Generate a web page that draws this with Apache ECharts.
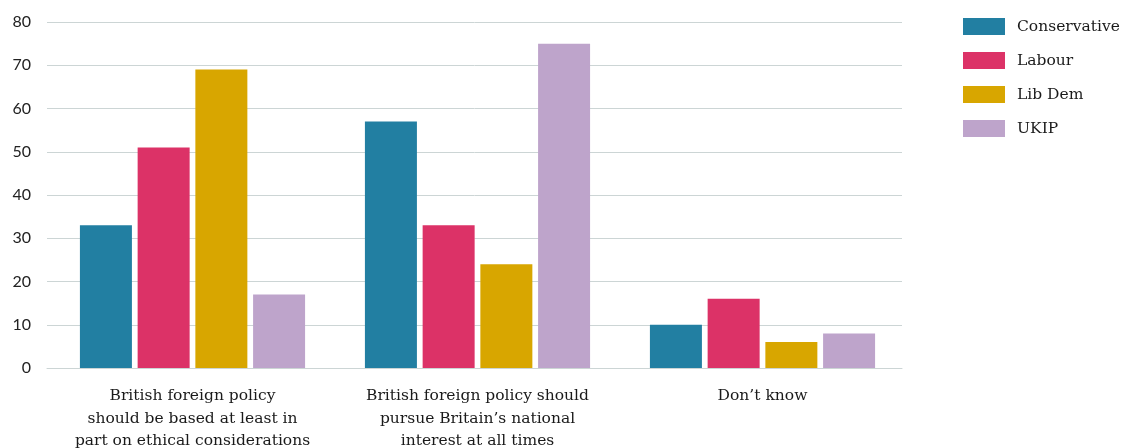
<!DOCTYPE html>
<html><head><meta charset="utf-8">
<script src="https://cdn.jsdelivr.net/npm/echarts@6/dist/echarts.min.js"></script>
<style>html,body{margin:0;padding:0;background:#fff}#c{width:1121px;height:448px}</style>
</head><body><div id="c"></div>
<script>
const categories = [
  "British foreign policy\nshould be based at least in\npart on ethical considerations",
  "British foreign policy should\npursue Britain\u2019s national\ninterest at all times",
  "Don\u2019t know"
];
const conservative = [33, 57, 10];
const labour = [51, 33, 16];
const libDem = [69, 24, 6];
const ukip = [17, 75, 8];
const yTicks = [0, 10, 20, 30, 40, 50, 60, 70, 80];

const seriesDefs = [
  ["Conservative", conservative, "#227fa2"],
  ["Labour", labour, "#dc3267"],
  ["Lib Dem", libDem, "#d8a600"],
  ["UKIP", ukip, "#bea4cb"]
];
const serif = "'DejaVu Serif', 'Liberation Serif', serif";
const gridColor = '#ccd5d5';
const chart = echarts.init(document.getElementById('c'), null, {renderer: 'canvas'});
chart.setOption({
  animation: false,
  grid: [
    {left: 47, right: 219, top: 22, bottom: 80, containLabel: false, outerBoundsMode: 'none'},
    {left: 50, right: 216, top: 22, bottom: 80, containLabel: false, outerBoundsMode: 'none'}
  ],
  legend: {
    orient: 'vertical', left: 963, top: 18, padding: 0,
    itemWidth: 42, itemHeight: 17, itemGap: 17,
    icon: 'rect',
    textStyle: {fontFamily: serif, fontSize: 15.5, color: '#1a1a1a', padding: [0, 0, 0, 7]},
    data: seriesDefs.map(s => s[0])
  },
  xAxis: [
    {
      type: 'category', gridIndex: 0, data: categories,
      axisLine: {show: true, lineStyle: {color: gridColor, width: 1}},
      axisTick: {show: false}, axisLabel: {show: false}
    },
    {
      type: 'category', gridIndex: 1, data: categories,
      axisLine: {show: false}, axisTick: {show: false},
      axisLabel: {fontFamily: serif, fontSize: 15.5, color: '#1a1a1a', lineHeight: 22.5, margin: 17, interval: 0}
    }
  ],
  yAxis: [
    {
      type: 'value', gridIndex: 0, min: yTicks[0], max: yTicks[yTicks.length - 1], interval: 10,
      axisLine: {show: false}, axisTick: {show: false},
      splitLine: {lineStyle: {color: gridColor, width: 1}},
      axisLabel: {fontFamily: "Lato, 'Noto Sans', sans-serif", fontSize: 16, color: '#222', margin: 16}
    },
    {
      type: 'value', gridIndex: 1, min: yTicks[0], max: yTicks[yTicks.length - 1], interval: 10,
      show: false, splitLine: {show: false}
    }
  ],
  series: seriesDefs.map(s => ({
    name: s[0], type: 'bar', data: s[1],
    xAxisIndex: 1, yAxisIndex: 1,
    barWidth: 52, barGap: '11%',
    itemStyle: {color: s[2]}
  }))
});
</script></body></html>
